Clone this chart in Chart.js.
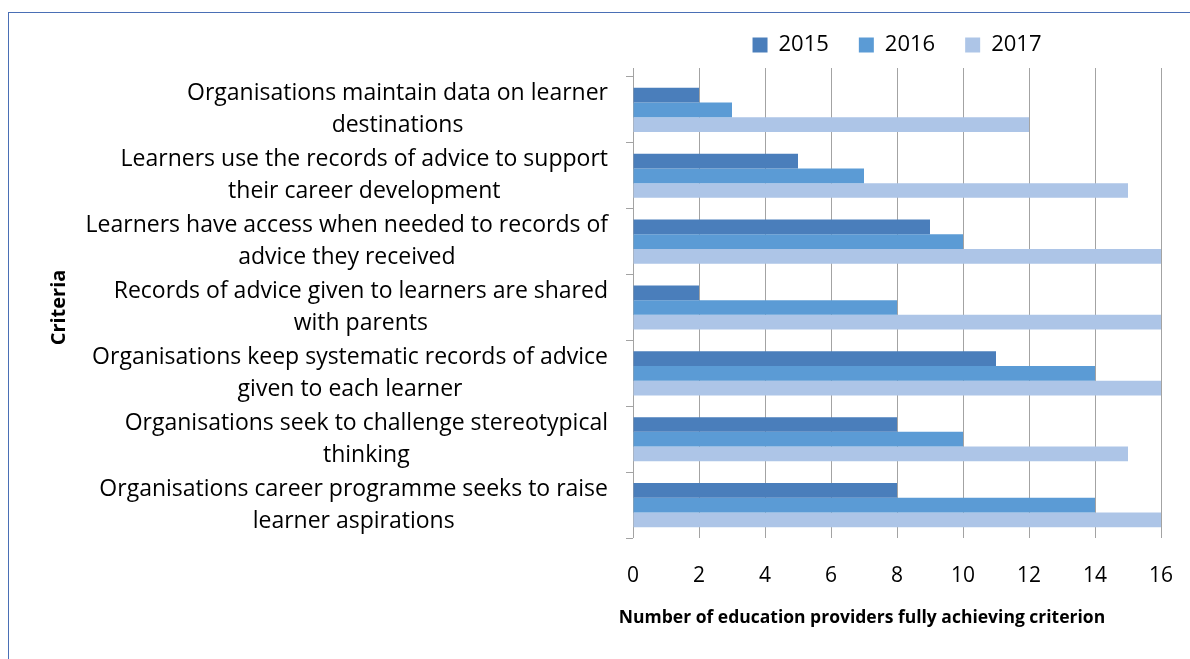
<!DOCTYPE html>
<html>
<head>
<meta charset="utf-8">
<script src="https://cdn.jsdelivr.net/npm/chart.js@4"></script>
<style>
  html, body { margin: 0; padding: 0; background: #fff; }
  #wrap { position: relative; width: 1190px; height: 659px; overflow: hidden; }
  #frame { position: absolute; left: 8px; top: 12px; width: 1300px; height: 800px;
           border-left: 1px solid #4a6fb5; border-top: 1px solid #4a6fb5; pointer-events: none; }
</style>
</head>
<body>
<div id="wrap">
  <canvas id="criteriaChart" width="1190" height="659"></canvas>
  <div id="frame"></div>
</div>
<script>
// categories, each split onto the two lines shown in the picture
const categories = [
  ['Organisations maintain data on learner', 'destinations'],
  ['Learners use the records of advice to support', 'their career development'],
  ['Learners have access when needed to records of', 'advice they received'],
  ['Records of advice given to learners are shared', 'with parents'],
  ['Organisations keep systematic records of advice', 'given to each learner'],
  ['Organisations seek to challenge stereotypical', 'thinking'],
  ['Organisations career programme seeks to raise', 'learner aspirations']
];
const years = ['2015', '2016', '2017'];
const values2015 = [2, 5, 9, 2, 11, 8, 8];
const values2016 = [3, 7, 10, 8, 14, 10, 14];
const values2017 = [12, 15, 16, 16, 16, 15, 16];
const xTicks = [0, 2, 4, 6, 8, 10, 12, 14, 16];
const xTitle = 'Number of education providers fully achieving criterion';
const yTitle = 'Criteria';

const colors = ['#4a7ebb', '#5b9bd5', '#adc5e7'];
const gridColor = '#a3a3a3';
const FONT = '"Open Sans", "Noto Sans", sans-serif';

// category labels: block right aligned to the axis, lines centred in the block
const labelPlugin = {
  id: 'criteriaLabels',
  afterDraw(chart) {
    const { ctx, scales: { x, y } } = chart;
    ctx.save();
    ctx.fillStyle = '#000';
    ctx.font = '23px ' + FONT;
    ctx.textAlign = 'center';
    ctx.textBaseline = 'middle';
    categories.forEach((lines, i) => {
      const cy = y.getPixelForValue(i);
      const w = Math.max(...lines.map(l => ctx.measureText(l).width));
      const cx = y.right - 25 - w / 2;
      lines.forEach((l, j) => ctx.fillText(l, cx, cy + (j - (lines.length - 1) / 2) * 32));
    });
    // x axis title
    ctx.font = 'bold 17.5px ' + FONT;
    ctx.fillText(xTitle, x.left + 229, 618);
    ctx.restore();
  }
};

new Chart(document.getElementById('criteriaChart'), {
  type: 'bar',
  data: {
    labels: categories,
    datasets: [
      { label: years[0], data: values2015, backgroundColor: colors[0] },
      { label: years[1], data: values2016, backgroundColor: colors[1] },
      { label: years[2], data: values2017, backgroundColor: colors[2] }
    ]
  },
  options: {
    indexAxis: 'y',
    responsive: false,
    animation: false,
    layout: { padding: { left: 0, right: 29, top: 4, bottom: 0 } },
    datasets: { bar: { categoryPercentage: 0.67, barPercentage: 1.0 } },
    plugins: {
      legend: {
        position: 'top',
        fullSize: false,
        labels: { font: { family: FONT, size: 22 }, color: '#000', boxWidth: 15, boxHeight: 15, padding: 30 }
      },
      tooltip: { enabled: false }
    },
    scales: {
      x: {
        position: 'bottom',
        min: 0, max: 16,
        afterBuildTicks(scale) { scale.ticks = xTicks.map(v => ({ value: v })); },
        afterFit(scale) { scale.height = 659 - 538; },
        grid: { color: gridColor, tickColor: 'rgba(0,0,0,0)', tickLength: 22 },
        border: { display: false },
        ticks: { font: { family: FONT, size: 21 }, color: '#000', padding: 3 }
      },
      xTop: {
        position: 'top',
        min: 0, max: 16,
        afterBuildTicks(scale) { scale.ticks = xTicks.map(v => ({ value: v })); },
        afterFit(scale) { scale.height = 11; },
        grid: { color: gridColor, drawOnChartArea: false, tickLength: 9 },
        border: { display: false },
        ticks: { display: false }
      },
      y: {
        afterFit(scale) { scale.width = 633; },
        grid: { color: gridColor, drawOnChartArea: false, tickLength: 7, offset: true },
        border: { display: false },
        ticks: { display: false },
        title: { display: true, text: yTitle, color: '#000', font: { family: FONT, size: 20, weight: 'bold' }, padding: { top: 47 } }
      }
    }
  },
  plugins: [labelPlugin]
});
</script>
</body>
</html>
